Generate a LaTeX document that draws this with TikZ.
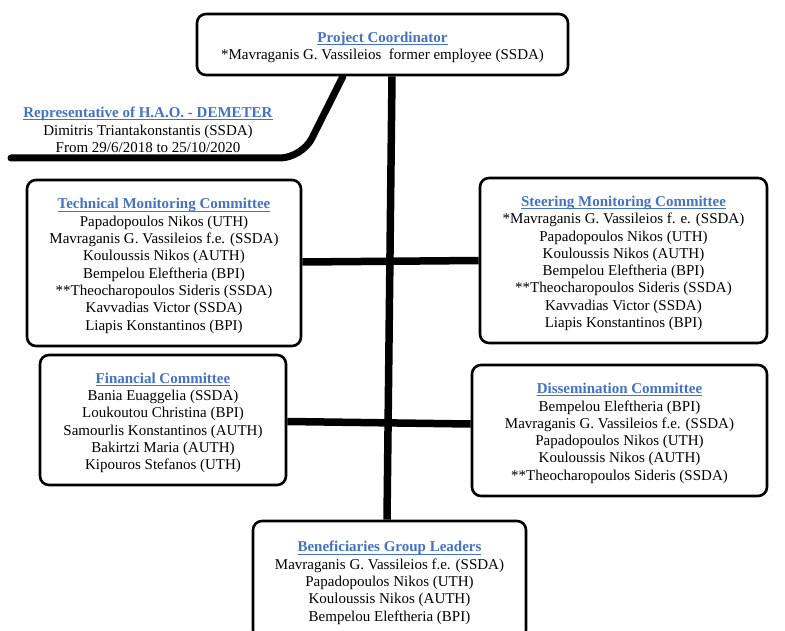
\documentclass[tikz,border=0pt]{standalone}
\usepackage{fontspec}
\setmainfont{Liberation Serif}
\usepackage{xcolor}
\usepackage{tikz}
\usetikzlibrary{positioning, calc, backgrounds}
\definecolor{titleblue}{HTML}{4472C4}
\newcommand{\heading}[1]{\rule{0pt}{16.2pt}{\color{titleblue}\sbox0{\textbf{#1}}\rlap{\raisebox{-2.6pt}[0pt][0pt]{\rule{\wd0}{0.9pt}}}\usebox0}}
\tikzset{
    committee/.style={draw, fill=white, line width=2.6pt, rounded corners=9pt, align=center, inner sep=0pt, font=\fontsize{15}{17.3}\selectfont},
    plain/.style={align=center, inner sep=0pt, font=\fontsize{15}{17.3}\selectfont},
    link/.style={line width=7.5pt}
}

\begin{document}
\begin{tikzpicture}[x=1pt, y=-1pt]

    \useasboundingbox (0,0) rectangle (785,631);

    % Boxes
    \node[committee, minimum width=371pt, minimum height=61pt] (coord) at (382.5,44.5)
        {\heading{Project Coordinator}\\*Mavraganis G. Vassileios~ former employee (SSDA)};

    \node[committee, minimum width=274pt, minimum height=166pt] (tech) at (164,263)
        {\heading{Technical Monitoring Committee}\\Papadopoulos Nikos (UTH)\\Mavraganis G. Vassileios f.e. (SSDA)\\Kouloussis Nikos (AUTH)\\Bempelou Eleftheria (BPI)\\**Theocharopoulos Sideris (SSDA)\\Kavvadias Victor (SSDA)\\Liapis Konstantinos (BPI)};

    \node[committee, minimum width=287pt, minimum height=165pt] (steer) at (623.5,260.5)
        {\heading{Steering Monitoring Committee}\\*Mavraganis G. Vassileios f. e. (SSDA)\\Papadopoulos Nikos (UTH)\\Kouloussis Nikos (AUTH)\\Bempelou Eleftheria (BPI)\\**Theocharopoulos Sideris (SSDA)\\Kavvadias Victor (SSDA)\\Liapis Konstantinos (BPI)};

    \node[committee, minimum width=246pt, minimum height=130pt] (fin) at (163,420)
        {\heading{Financial Committee}\\Bania Euaggelia (SSDA)\\Loukoutou Christina (BPI)\\Samourlis Konstantinos (AUTH)\\Bakirtzi Maria (AUTH)\\Kipouros Stefanos (UTH)};

    \node[committee, minimum width=295pt, minimum height=131pt] (diss) at (619.5,430.5)
        {\heading{Dissemination Committee}\\Bempelou Eleftheria (BPI)\\Mavraganis G. Vassileios f.e. (SSDA)\\Papadopoulos Nikos (UTH)\\Kouloussis Nikos (AUTH)\\**Theocharopoulos Sideris (SSDA)};

    \node[committee, minimum width=273pt, minimum height=118pt] (benef) at (389.5,580)
        {\heading{Beneficiaries Group Leaders}\\Mavraganis G. Vassileios f.e. (SSDA)\\Papadopoulos Nikos (UTH)\\Kouloussis Nikos (AUTH)\\Bempelou Eleftheria (BPI)};

    % Representative
    \node[plain] (rep) at (148,127)
        {\heading{Representative of H.A.O. - DEMETER}\\Dimitris Triantakonstantis (SSDA)\\From 29/6/2018 to 25/10/2020};
    \coordinate (bend) at (302,158);
    \coordinate (repend) at (11,158);

    % Connectors
    \begin{pgfonlayer}{background}
        \draw[link] ([xshift=9.5pt]coord.south) -- ([xshift=-2.5pt]benef.north);
        \draw[link] ([yshift=1pt]tech.east) -- (steer.west);
        \draw[link] ([yshift=-1.5pt]fin.east) -- ([yshift=6.5pt]diss.west);
        \draw[link, line width=7pt, line cap=round, rounded corners=22pt]
            ([xshift=-39.5pt]coord.south) -- (bend) -- (repend);
    \end{pgfonlayer}

\end{tikzpicture}
\end{document}
